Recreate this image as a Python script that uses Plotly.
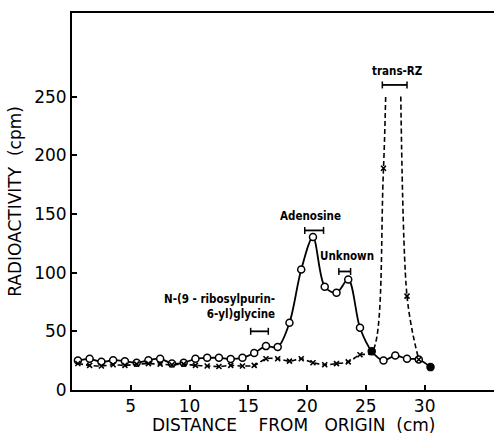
import plotly.graph_objects as go

# Distance from origin (cm) of each chromatogram segment
dist_solid = [0.5, 1.5, 2.5, 3.5, 4.5, 5.5, 6.5, 7.5, 8.5, 9.5, 10.5, 11.5, 12.5, 13.5, 14.5,
              15.5, 16.5, 17.5, 18.5, 19.5, 20.5, 21.5, 22.5, 23.5, 24.5, 25.5, 26.5, 27.5,
              28.5, 29.5, 30.5]
cpm_solid = [25.1, 26.6, 24.0, 25.4, 24.6, 23.2, 25.4, 26.6, 22.6, 23.2, 26.6, 27.4, 27.4, 26.5,
             27.4, 31.5, 37.4, 36.6, 57.3, 102.7, 130.3, 88.0, 82.8, 94.2, 53.0, 33.0, 25.1,
             29.4, 26.6, 26.0, 19.5]

dist_dashed = [0.5, 1.5, 2.5, 3.5, 4.5, 5.5, 6.5, 7.5, 8.5, 9.5, 10.5, 11.5, 12.5, 13.5, 14.5,
               15.5, 16.5, 17.5, 18.5, 19.5, 20.5, 21.5, 22.5, 23.5, 24.5, 25.5, 26.5, 27.5,
               28.5, 29.5]
cpm_dashed = [22.6, 21.0, 20.5, 21.5, 21.0, 22.0, 22.5, 22.0, 21.5, 22.0, 21.0, 20.5, 20.0, 21.0,
              20.5, 21.0, 26.6, 26.6, 24.6, 26.6, 23.2, 21.5, 22.5, 24.0, 30.0, 32.0, 189.0, 650.0,
              80.0, 26.0]

# Reference compound bands (cm) and the level at which each bar is drawn (cpm)
band_labels = ["N-(9 - ribosylpurin-<br>6-yl)glycine", "Adenosine", "Unknown", "trans-RZ"]
band_start = [15.2, 19.8, 22.7, 26.4]
band_end = [16.7, 21.4, 23.7, 28.5]
band_level = [50, 136, 101, 260]

x_ticks = [5, 10, 15, 20, 25, 30]
y_ticks = [0, 50, 100, 150, 200, 250]

X_MAX = 35.9
Y_MAX = 321.3
CLIP = 251  # off-scale peak is cut at this level

fig = go.Figure()

# dashed curve, drawn on a sub-axis whose top sits at CLIP so the peak is cut off
fig.add_trace(go.Scatter(
    x=dist_dashed, y=cpm_dashed, yaxis="y2", mode="lines+markers",
    line=dict(color="black", width=1.6, dash="5px,3px", shape="spline", smoothing=0.9),
    marker=dict(symbol="x-thin", size=5, line=dict(color="black", width=1.6)),
    cliponaxis=True, showlegend=False))

fill = ["white"] * len(dist_solid)
fill[-1] = "black"
fill[25] = "black"
fig.add_trace(go.Scatter(
    x=dist_solid, y=cpm_solid, mode="lines+markers",
    line=dict(color="black", width=1.8, shape="spline", smoothing=0.9),
    marker=dict(symbol="circle", size=7, color=fill, line=dict(color="black", width=1.5)),
    showlegend=False))

# band bars with end caps
for s, e, lv in zip(band_start, band_end, band_level):
    fig.add_trace(go.Scatter(
        x=[s, e], y=[lv, lv], mode="lines+markers",
        line=dict(color="black", width=1.8),
        marker=dict(symbol="line-ns", size=5, line=dict(color="black", width=1.5)),
        showlegend=False, hoverinfo="skip"))

label_font = dict(family="Liberation Sans Narrow, DejaVu Sans Condensed, sans-serif",
                  size=11.5, color="black")
label_pos = [(17.45, 71, "right"), (20.27, 148, "center"), (23.43, 114, "center"),
             (27.65, 272, "center")]
for txt, (lx, ly, al) in zip(band_labels, label_pos):
    fig.add_annotation(x=lx, y=ly, text="<b>" + txt + "</b>", showarrow=False,
                       xanchor=al, yanchor="middle", align="right", font=label_font)

sp = "\u00a0"
fig.add_annotation(xref="paper", yref="paper", x=0.526, y=-0.092,
                   text=f"DISTANCE{sp*4}FROM{sp*3}ORIGIN{sp*2}(cm)", showarrow=False,
                   xanchor="center", yanchor="middle",
                   font=dict(family="DejaVu Sans", size=17, color="black"))

fig.update_layout(
    width=494, height=435,
    margin=dict(l=72, r=0, t=13, b=45),
    paper_bgcolor="white", plot_bgcolor="rgba(0,0,0,0)",
    xaxis=dict(range=[0, X_MAX], tickvals=x_ticks, ticks="inside", ticklen=5,
               tickwidth=1.5, tickcolor="black", showline=True, linecolor="black",
               linewidth=2, mirror=True, showgrid=False, zeroline=False,
               tickfont=dict(family="DejaVu Sans", size=17, color="black")),
    yaxis=dict(range=[0, Y_MAX], tickvals=y_ticks, ticks="inside", ticklen=5,
               tickwidth=1.5, tickcolor="black", showline=True, linecolor="black",
               linewidth=2, showgrid=False, zeroline=False,
               tickfont=dict(family="DejaVu Sans", size=17, color="black"),
               title=dict(text=f"RADIOACTIVITY{sp*2}(cpm)", standoff=8,
                          font=dict(family="DejaVu Sans", size=17, color="black"))),
    yaxis2=dict(domain=[0, CLIP / Y_MAX], range=[0, CLIP], anchor="x", visible=False),
)

fig.write_html("out.html")
